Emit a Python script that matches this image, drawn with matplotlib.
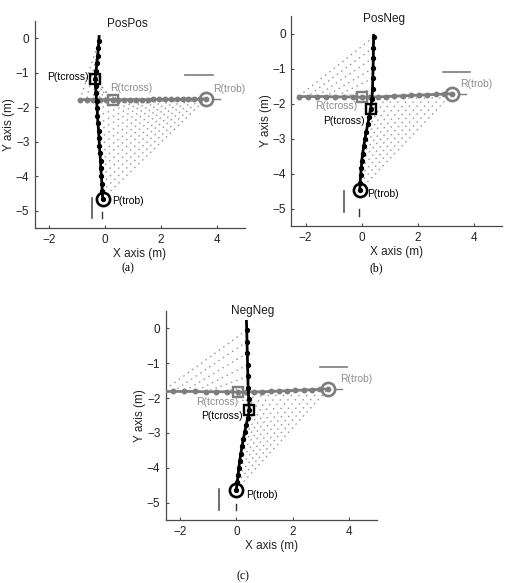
import matplotlib
matplotlib.use("Agg")
import matplotlib.pyplot as plt

plt.rcParams['font.family'] = ['Liberation Sans', 'DejaVu Sans']

# ---------------- data ----------------
titles = ["PosPos", "PosNeg", "NegNeg"]
captions = ["(a)", "(b)", "(c)"]
x_ticks = [-2, 0, 2, 4]
y_ticks = [0, -1, -2, -3, -4, -5]
x_label = "X axis (m)"
y_label = "Y axis (m)"

# Panel (a): pedestrian P (black) and robot R (gray) positions at equal time steps
pa_x = [-0.08, -0.10, -0.11, -0.13, -0.15, -0.16, -0.18, -0.20, -0.21, -0.23, -0.25,
        -0.27, -0.28, -0.30, -0.32, -0.33, -0.35, -0.32, -0.29, -0.26, -0.24, -0.22]
pa_y = [-4.65, -4.43, -4.21, -3.99, -3.77, -3.55, -3.34, -3.12, -2.90, -2.68, -2.47,
        -2.25, -2.03, -1.82, -1.60, -1.39, -1.17, -0.95, -0.73, -0.51, -0.29, -0.07]
ra_x = [3.60, 3.39, 3.18, 2.98, 2.77, 2.56, 2.35, 2.14, 1.94, 1.73, 1.52,
        1.31, 1.10, 0.90, 0.69, 0.48, 0.27, 0.04, -0.19, -0.42, -0.66, -0.89]
ra_y = [-1.76, -1.76, -1.76, -1.76, -1.77, -1.77, -1.77, -1.77, -1.77, -1.77, -1.78,
        -1.78, -1.78, -1.78, -1.78, -1.78, -1.78, -1.78, -1.78, -1.78, -1.78, -1.78]
a_tcross = 16
a_p_end = (-0.21, 0.05)

# Panel (b)
pb_x = [-0.07, -0.06, -0.04, -0.02, 0.00, 0.03, 0.07, 0.11, 0.16, 0.21, 0.26, 0.31,
        0.36, 0.38, 0.39, 0.40, 0.41, 0.41, 0.42]
pb_y = [-4.47, -4.26, -4.05, -3.84, -3.63, -3.43, -3.22, -3.01, -2.80, -2.59, -2.38, -2.17,
        -1.87, -1.58, -1.28, -0.99, -0.69, -0.40, -0.10]
rb_x = [3.20, 2.91, 2.62, 2.33, 2.04, 1.75, 1.45, 1.16, 0.87, 0.58, 0.29, 0.00,
        -0.32, -0.64, -0.96, -1.29, -1.61, -1.93, -2.25]
rb_y = [-1.72, -1.73, -1.74, -1.75, -1.76, -1.77, -1.78, -1.79, -1.80, -1.81, -1.81, -1.82,
        -1.81, -1.81, -1.81, -1.80, -1.80, -1.80, -1.80]
b_tcross = 11
b_p_end = (0.42, -0.05)

# Panel (c)
pc_x = [0.00, 0.03, 0.06, 0.09, 0.12, 0.16, 0.20, 0.25, 0.30, 0.35, 0.41, 0.46,
        0.44, 0.42, 0.41, 0.40, 0.39, 0.38, 0.37]
pc_y = [-4.63, -4.42, -4.22, -4.01, -3.80, -3.60, -3.39, -3.18, -2.97, -2.77, -2.56, -2.35,
        -2.03, -1.70, -1.38, -1.05, -0.71, -0.38, -0.05]
rc_x = [3.26, 2.97, 2.68, 2.39, 2.10, 1.80, 1.51, 1.22, 0.93, 0.64, 0.34, 0.05,
        -0.33, -0.71, -1.09, -1.47, -1.86, -2.24, -2.62]
rc_y = [-1.74, -1.75, -1.76, -1.77, -1.78, -1.79, -1.80, -1.81, -1.82, -1.82, -1.83, -1.83,
        -1.82, -1.82, -1.82, -1.81, -1.81, -1.81, -1.81]
c_tcross = 11
c_p_end = (0.36, 0.20)

# small reference bars drawn in each panel
a_hbar = ([2.86, 3.87], [-1.06, -1.06]); a_vbar = ([-0.48, -0.48], [-4.63, -5.22])
b_hbar = ([2.90, 3.84], [-1.11, -1.11]); b_vbar = ([-0.64, -0.64], [-4.50, -5.10])
c_hbar = ([2.97, 3.94], [-1.10, -1.10]); c_vbar = ([-0.60, -0.60], [-4.60, -5.20])
a_ptick = ([-0.10, -0.10], [-5.03, -5.22]); a_rtick = ([3.86, 4.10], [-1.76, -1.76])
b_ptick = ([-0.09, -0.09], [-5.00, -5.20]); b_rtick = ([3.45, 3.70], [-1.72, -1.72])
c_ptick = ([0.00, 0.00], [-5.05, -5.22]); c_rtick = ([3.50, 3.75], [-1.74, -1.74])

# ---------------- drawing ----------------
GRAY = '#7d7d7d'
LGRAY = '#8c8c8c'
DOT = '#8f8f8f'

fig = plt.figure(figsize=(5.05, 5.83), dpi=100)
rects = [[0.0693, 0.6089, 0.4158, 0.3551],
         [0.5772, 0.6123, 0.4178, 0.3602],
         [0.3287, 0.1081, 0.4178, 0.3585]]

panels = [
    (pa_x, pa_y, ra_x, ra_y, a_tcross, a_p_end, a_hbar, a_vbar, a_ptick, a_rtick),
    (pb_x, pb_y, rb_x, rb_y, b_tcross, b_p_end, b_hbar, b_vbar, b_ptick, b_rtick),
    (pc_x, pc_y, rc_x, rc_y, c_tcross, c_p_end, c_hbar, c_vbar, c_ptick, c_rtick),
]

# label offsets in points: (P(tcross), R(tcross), R(trob), P(trob)) -> (dx, dy, ha)
label_offsets = [
    [(-4.5, 1.5, 'right'), (-2, 8.5, 'left'), (5, 7.5, 'left'), (6.5, -1.5, 'left')],
    [(-4.5, -8, 'right'), (-3, -6.5, 'right'), (6, 7, 'left'), (5.5, -3, 'left')],
    [(-4.5, -4.5, 'right'), (0.5, -7, 'right'), (8.5, 7, 'left'), (7, -4, 'left')],
]
cap_pos = [(128, 268), (376, 268), (243, 576)]
title_pos = [(0.44, 0.985), (0.44, 0.985), (0.41, 1.0)]

for k, (px, py, rx, ry, tc, pend, hbar, vbar, ptick, rtick) in enumerate(panels):
    ax = fig.add_axes(rects[k])
    ax.set_xlim(-2.5, 5)
    ax.set_ylim(-5.5, 0.5)
    # connecting dotted lines between simultaneous positions
    for i in range(len(px)):
        ax.plot([px[i], rx[i]], [py[i], ry[i]], linestyle=(0, (1.2, 3.2)),
                color=DOT, lw=0.9, zorder=1)
    # reference bars
    ax.plot(*hbar, color=GRAY, lw=1.2, zorder=2)
    ax.plot(*vbar, color='#555555', lw=1.2, zorder=2)
    ax.plot(*ptick, color='#333333', lw=1.0, zorder=2)
    ax.plot(*rtick, color=GRAY, lw=1.0, zorder=2)
    # robot path
    ax.plot(rx, ry, color=GRAY, lw=2.0, marker='o', ms=3.2, mfc=GRAY, mec=GRAY, zorder=3)
    # pedestrian path
    ax.plot(list(px) + [pend[0]], list(py) + [pend[1]], color='black', lw=2.0, zorder=4)
    ax.plot(px, py, linestyle='none', marker='o', ms=2.8, color='black', zorder=5)
    # key markers
    ax.plot(rx[tc], ry[tc], marker='s', ms=7.8, mfc='none', mec=GRAY, mew=1.7, zorder=6)
    ax.plot(px[tc], py[tc], marker='s', ms=7.8, mfc='none', mec='black', mew=1.7, zorder=7)
    ax.plot(rx[0], ry[0], marker='o', ms=9.5, mfc='none', mec=GRAY, mew=1.9, zorder=6)
    ax.plot(px[0], py[0], marker='o', ms=9.5, mfc='none', mec='black', mew=1.9, zorder=7)

    offs = label_offsets[k]
    texts = [("P(tcross)", px[tc], py[tc], 'black'), ("R(tcross)", rx[tc], ry[tc], LGRAY),
             ("R(trob)", rx[0], ry[0], LGRAY), ("P(trob)", px[0], py[0], 'black')]
    for (s, x, y, c), (dx, dy, ha) in zip(texts, offs):
        ax.annotate(s, (x, y), xytext=(dx, dy), textcoords='offset points',
                    ha=ha, va='center', fontsize=7.5, color=c, zorder=8)

    ax.text(title_pos[k][0], title_pos[k][1], titles[k], transform=ax.transAxes,
            ha='center', va='center', fontsize=8.5, color='#1a1a1a')

    for sp in ['top', 'right']:
        ax.spines[sp].set_visible(False)
    for sp in ['left', 'bottom']:
        ax.spines[sp].set_color('#4a4a4a')
        ax.spines[sp].set_linewidth(0.9)
    ax.set_xticks(x_ticks)
    ax.set_xticklabels([str(v).replace('-', '\u2212') for v in x_ticks])
    ax.set_yticks(y_ticks)
    ax.set_yticklabels([str(v).replace('-', '\u2212') for v in y_ticks])
    ax.tick_params(direction='in', length=2.5, width=0.8, color='#4a4a4a',
                   labelsize=8.5, labelcolor='#222222', pad=4)
    ax.set_xlabel(x_label, fontsize=8.5, color='#222222', labelpad=2)
    ax.set_ylabel(y_label, fontsize=8.5, color='#222222', labelpad=0.5)

    cx, cy = cap_pos[k]
    fig.text(cx / 505, 1 - cy / 583, captions[k], ha='center', va='center',
             fontsize=8.5, family=['Liberation Serif', 'DejaVu Serif'])

fig.savefig("out.png", dpi=100)
